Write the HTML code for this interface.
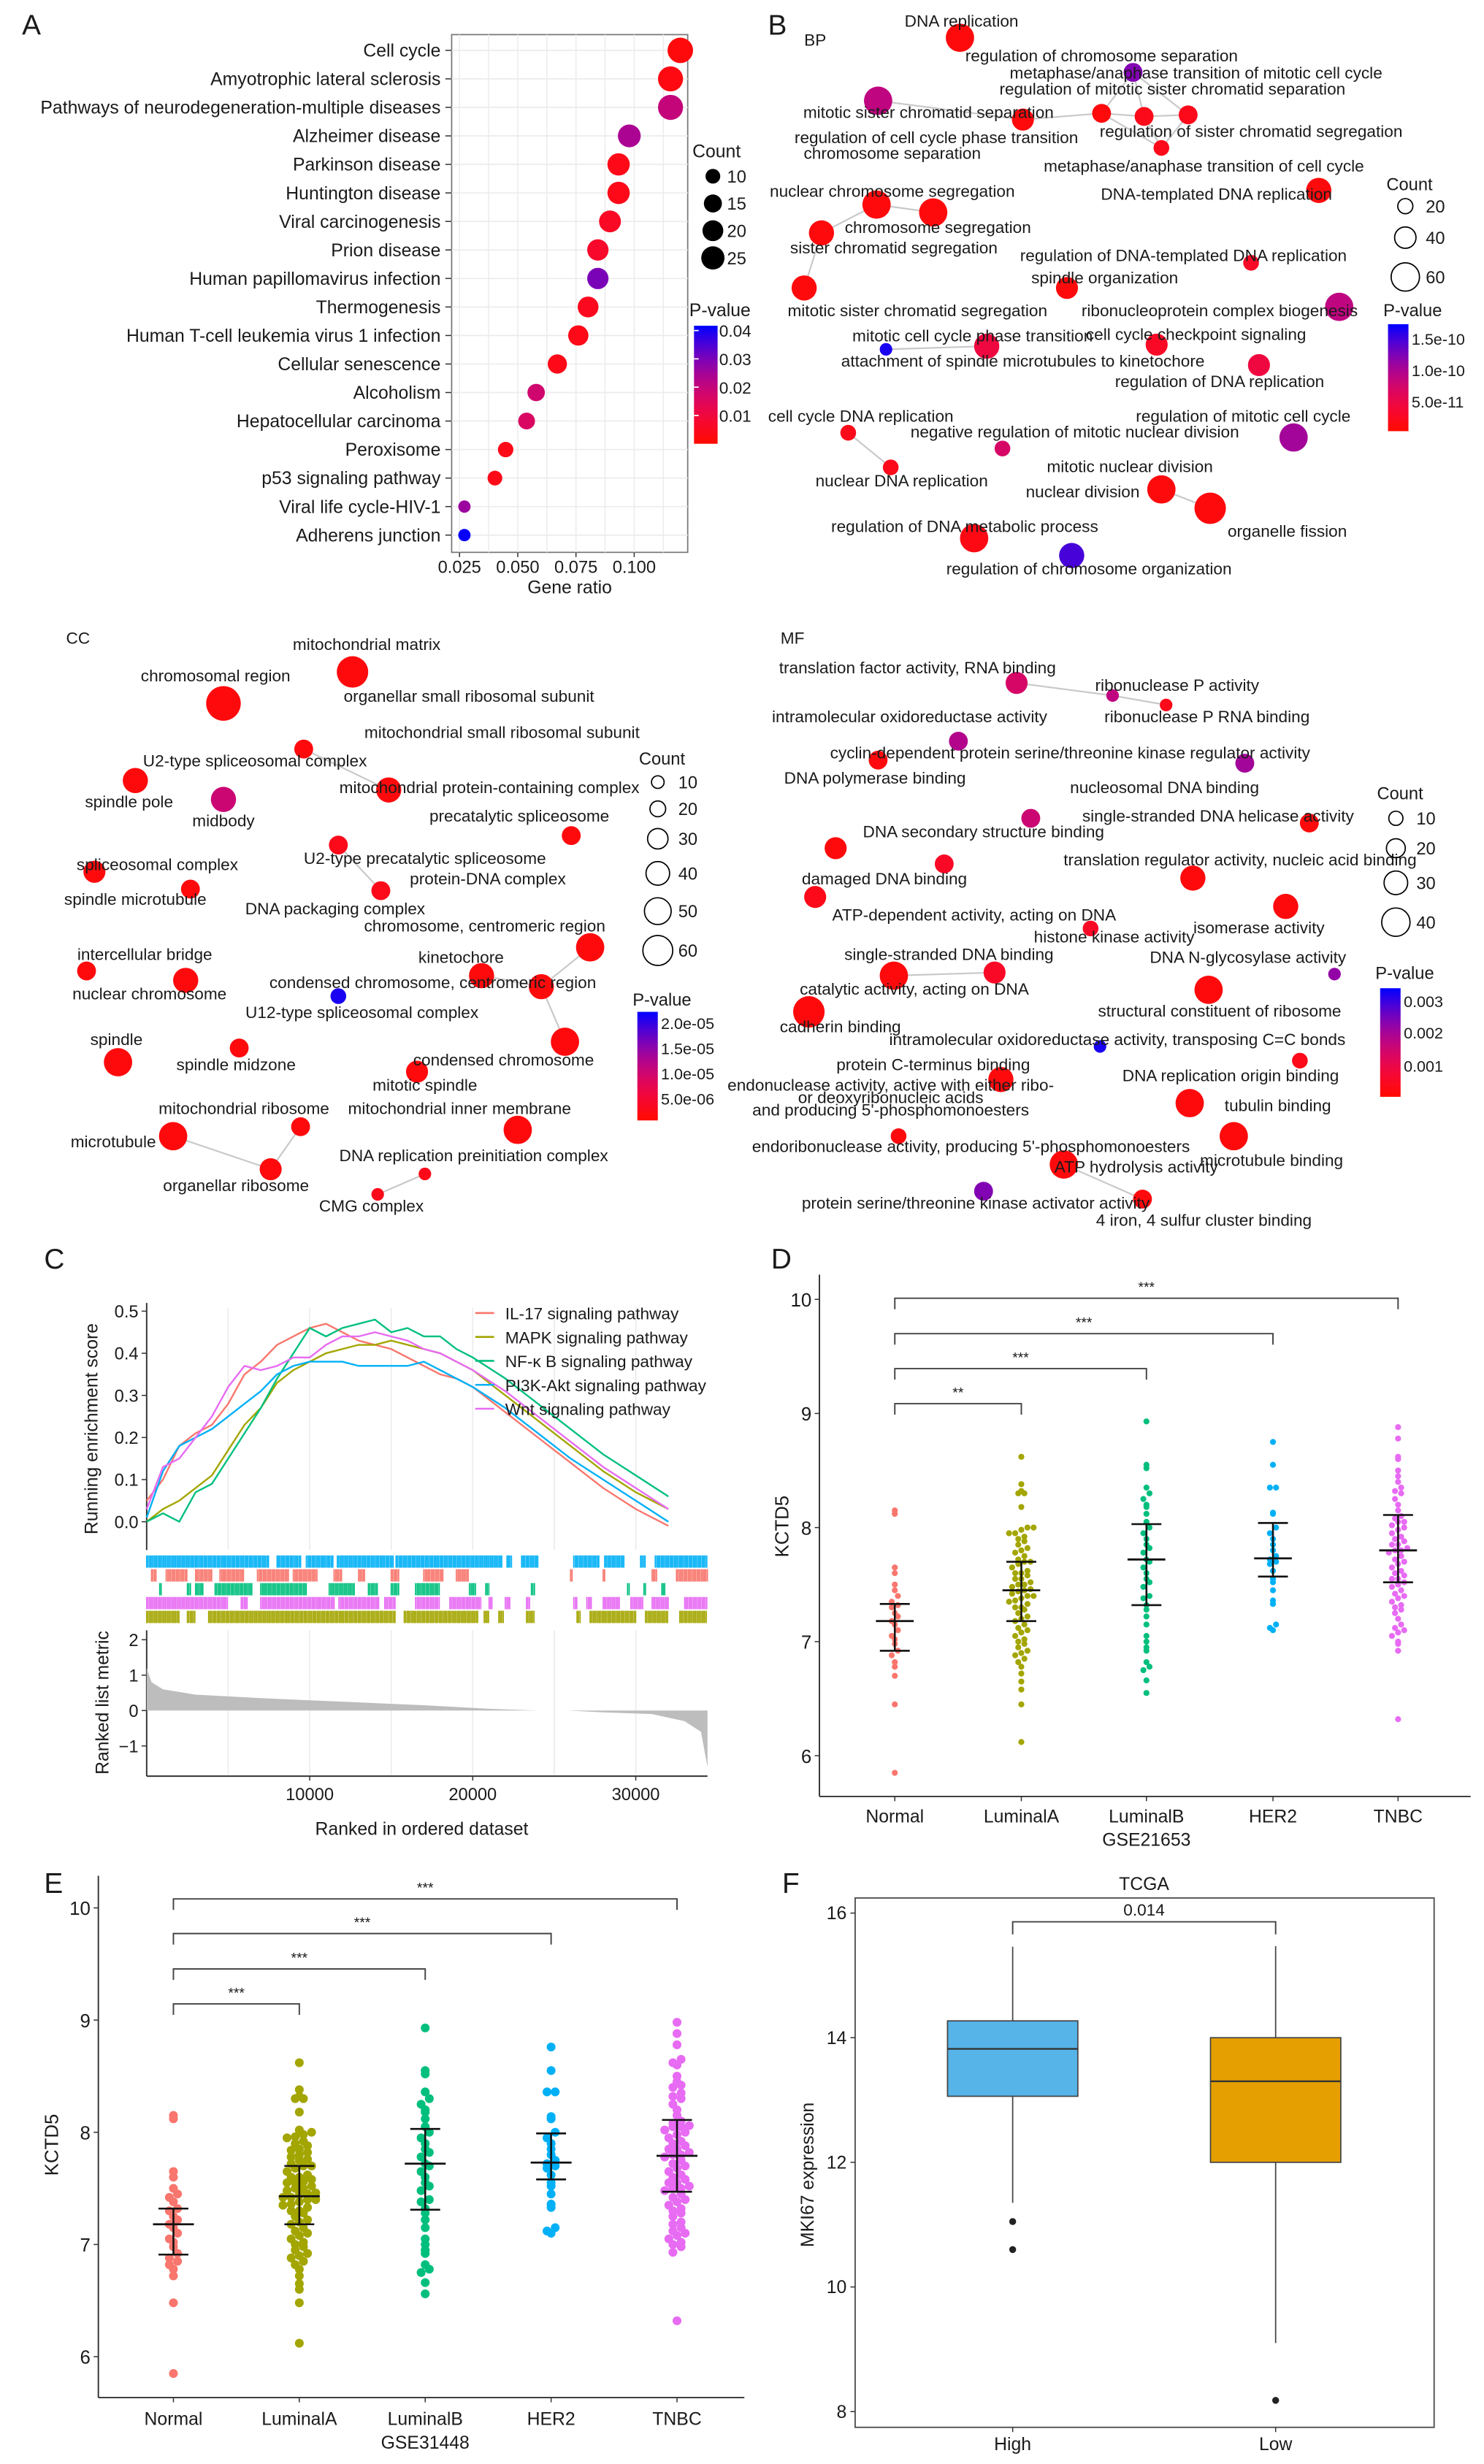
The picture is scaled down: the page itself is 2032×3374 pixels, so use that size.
<!DOCTYPE html>
<html><head><meta charset="utf-8">
<style>
html,body{margin:0;padding:0;background:#fff;}
svg{display:block;font-family:"Liberation Sans",Arial,sans-serif;}
</style></head>
<body>
<svg id="fig" xmlns="http://www.w3.org/2000/svg" width="2032" height="3374" viewBox="0 0 943 1565.8" preserveAspectRatio="none">
<rect x="0" y="0" width="943" height="1565.8" fill="#fff"/>
</svg>
<script>
// ---------- Panel A data ----------
const aTerms = ["Cell cycle","Amyotrophic lateral sclerosis","Pathways of neurodegeneration-multiple diseases","Alzheimer disease","Parkinson disease","Huntington disease","Viral carcinogenesis","Prion disease","Human papillomavirus infection","Thermogenesis","Human T-cell leukemia virus 1 infection","Cellular senescence","Alcoholism","Hepatocellular carcinoma","Peroxisome","p53 signaling pathway","Viral life cycle-HIV-1","Adherens junction"];
const aRatio = [0.1198,0.1156,0.1156,0.0979,0.0933,0.0933,0.0896,0.0844,0.0844,0.0802,0.076,0.067,0.0579,0.0538,0.0448,0.0402,0.0271,0.0271];
const aCount = [30,29,29,24,23,23,22,21,21,20,19,17,14,13,11,10,7,7];
const aPval = [0.002,0.003,0.02,0.024,0.004,0.004,0.006,0.007,0.03,0.005,0.004,0.004,0.018,0.016,0.004,0.004,0.026,0.041];
const aXTicks = [0.025,0.05,0.075,0.1];
const aXTickLabels = ["0.025","0.050","0.075","0.100"];
const aCountLegend = [10,15,20,25];
const aPLegend = [0.04,0.03,0.02,0.01];

// ---------- Panel C data ----------
const cRanks = [0,1000,2000,3000,4000,5000,6000,7000,8000,9000,10000,11000,12000,13000,14000,15000,16000,17000,18000,19000,20000,22000,24000,26000,28000,30000,32000];
const cIL17 = [0.05,0.1,0.18,0.21,0.23,0.28,0.35,0.38,0.42,0.44,0.46,0.47,0.45,0.43,0.42,0.41,0.39,0.37,0.35,0.34,0.32,0.26,0.2,0.14,0.08,0.03,-0.01];
const cMAPK = [0.0,0.03,0.05,0.08,0.11,0.17,0.23,0.27,0.33,0.36,0.38,0.4,0.41,0.42,0.42,0.43,0.42,0.41,0.4,0.38,0.36,0.3,0.24,0.18,0.12,0.07,0.03];
const cNFKB = [0.0,0.02,0.0,0.07,0.09,0.15,0.21,0.27,0.34,0.4,0.46,0.44,0.46,0.47,0.48,0.45,0.46,0.44,0.44,0.41,0.39,0.34,0.28,0.22,0.16,0.11,0.06];
const cPI3K = [0.01,0.12,0.18,0.2,0.22,0.25,0.28,0.31,0.35,0.37,0.38,0.38,0.38,0.37,0.37,0.37,0.37,0.38,0.36,0.34,0.32,0.27,0.21,0.15,0.1,0.05,0.0];
const cWnt = [0.03,0.13,0.15,0.2,0.25,0.32,0.37,0.36,0.37,0.39,0.39,0.42,0.44,0.44,0.45,0.44,0.43,0.41,0.4,0.38,0.36,0.31,0.25,0.19,0.13,0.08,0.03];
const cSeriesNames = ["IL-17 signaling pathway","MAPK signaling pathway","NF-κ B signaling pathway","PI3K-Akt signaling pathway","Wnt signaling pathway"];
const cYTicks = [0,0.1,0.2,0.3,0.4,0.5];
const cXTicks = [10000,20000,30000];
const cMetricRank = [0,300,1000,3000,7000,12000,17000,21000,24000,25800,28000,31000,33000,34000,34400];
const cMetricVal = [1.2,0.8,0.6,0.45,0.35,0.25,0.15,0.05,0.0,0.0,-0.05,-0.1,-0.3,-0.6,-1.6];
const cMetricTicks = [2,1,0,-1];
const cRugBlue = [[0,7500],[8000,9500],[9800,11500],[11700,15200],[15300,21800],[22100,22400],[23000,24000],[26200,27800],[28100,29300],[30300,30600],[31200,34400]];
const cRugRed = [[300,600],[1200,2500],[3000,4000],[4500,6000],[6800,8700],[9000,10500],[11500,12000],[13000,13400],[15000,15500],[17000,18200],[19000,19800],[26000,26100],[28000,28100],[31000,31300],[32500,34400]];
const cRugGreen = [[800,900],[2500,2700],[3000,3500],[4200,6500],[7000,9800],[11200,12800],[13600,14200],[15000,15500],[16500,18000],[19800,20200],[20800,21000],[23600,23800],[29500,29600],[30500,30600],[31600,31800]];
const cRugPink = [[0,5000],[5800,6200],[7000,11500],[11800,14300],[14600,15300],[16500,18000],[18600,20500],[21000,21200],[22000,22300],[23300,23500],[26200,26400],[27000,27300],[28000,29000],[29700,30500],[31000,32000],[33000,34400]];
const cRugOlive = [[0,2000],[2500,3000],[3800,15300],[15800,20300],[20700,21000],[21600,21900],[23300,23800],[26400,26600],[27200,30000],[30600,32000],[32700,34400]];

// ---------- Panel D data (GSE21653) ----------
const groups = ["Normal","LuminalA","LuminalB","HER2","TNBC"];
const dNormal = [8.15,8.12,7.65,7.6,7.5,7.45,7.4,7.35,7.32,7.3,7.25,7.22,7.18,7.15,7.1,7.05,7.02,6.98,6.92,6.88,6.82,6.78,6.7,6.45,5.85];
const dLumA = [8.62,8.38,8.32,8.3,8.3,8.18,8.0,8.0,7.98,7.95,7.95,7.92,7.9,7.88,7.85,7.82,7.8,7.78,7.75,7.72,7.7,7.7,7.68,7.65,7.62,7.6,7.6,7.58,7.55,7.55,7.52,7.5,7.5,7.48,7.46,7.45,7.44,7.42,7.4,7.4,7.38,7.36,7.35,7.33,7.3,7.3,7.28,7.25,7.22,7.2,7.18,7.15,7.12,7.1,7.08,7.05,7.02,7.0,6.98,6.95,6.92,6.9,6.88,6.85,6.82,6.78,6.72,6.65,6.58,6.45,6.12];
const dLumB = [8.93,8.55,8.52,8.35,8.3,8.25,8.2,8.18,8.12,8.05,8.0,7.95,7.9,7.85,7.82,7.78,7.72,7.7,7.65,7.6,7.55,7.52,7.48,7.4,7.38,7.32,7.28,7.22,7.15,7.05,7.0,6.95,6.92,6.82,6.78,6.75,6.66,6.55];
const dHER2 = [8.75,8.55,8.35,8.35,8.13,8.12,8.0,7.95,7.9,7.85,7.8,7.75,7.72,7.7,7.68,7.62,7.55,7.52,7.45,7.36,7.33,7.15,7.12,7.1];
const dTNBC = [8.88,8.78,8.62,8.6,8.5,8.45,8.4,8.35,8.32,8.3,8.25,8.2,8.15,8.1,8.08,8.05,8.05,8.02,8.0,7.98,7.95,7.92,7.9,7.88,7.85,7.85,7.82,7.8,7.8,7.78,7.75,7.72,7.7,7.68,7.65,7.62,7.6,7.58,7.55,7.55,7.52,7.5,7.48,7.45,7.42,7.4,7.38,7.35,7.32,7.3,7.28,7.25,7.2,7.15,7.12,7.1,7.08,7.05,7.0,6.98,6.92,6.32];
const dMean = [7.18,7.45,7.72,7.73,7.8];
const dLo = [6.92,7.18,7.32,7.57,7.52];
const dHi = [7.33,7.7,8.03,8.04,8.11];
const dSig = ["***","***","***","**"];
const yTicksKCTD = [10,9,8,7,6];

// ---------- Panel E data (GSE31448) ----------
const eNormal = [8.15,8.12,7.65,7.6,7.5,7.45,7.42,7.38,7.32,7.3,7.25,7.22,7.18,7.15,7.1,7.05,7.02,6.98,6.92,6.88,6.85,6.82,6.78,6.72,6.48,5.85];
const eLumA = [8.62,8.38,8.32,8.3,8.3,8.18,8.02,8.0,7.98,7.96,7.95,7.92,7.9,7.88,7.85,7.84,7.82,7.8,7.78,7.76,7.75,7.72,7.7,7.7,7.68,7.65,7.62,7.6,7.6,7.58,7.56,7.55,7.55,7.52,7.5,7.5,7.48,7.46,7.45,7.44,7.42,7.42,7.4,7.4,7.38,7.36,7.35,7.33,7.3,7.3,7.28,7.25,7.22,7.2,7.18,7.15,7.12,7.1,7.08,7.05,7.02,7.0,6.98,6.95,6.92,6.9,6.88,6.85,6.82,6.78,6.72,6.65,6.6,6.48,6.12];
const eLumB = [8.93,8.55,8.52,8.36,8.3,8.25,8.2,8.18,8.12,8.05,8.0,7.95,7.9,7.85,7.82,7.78,7.72,7.7,7.65,7.6,7.55,7.52,7.48,7.4,7.38,7.32,7.28,7.22,7.15,7.05,7.0,6.95,6.92,6.82,6.78,6.75,6.66,6.56];
const eHER2 = [8.76,8.55,8.36,8.36,8.14,8.12,8.0,7.95,7.9,7.85,7.8,7.75,7.72,7.7,7.68,7.62,7.55,7.52,7.45,7.36,7.33,7.15,7.12,7.1];
const eTNBC = [8.98,8.88,8.78,8.65,8.62,8.6,8.5,8.45,8.42,8.4,8.35,8.32,8.3,8.25,8.2,8.15,8.1,8.08,8.06,8.05,8.05,8.02,8.0,7.98,7.95,7.92,7.9,7.88,7.85,7.85,7.82,7.8,7.8,7.78,7.75,7.72,7.7,7.68,7.65,7.62,7.6,7.58,7.55,7.55,7.52,7.5,7.5,7.48,7.45,7.42,7.4,7.38,7.35,7.32,7.3,7.28,7.25,7.2,7.18,7.15,7.12,7.1,7.08,7.05,7.02,7.0,6.98,6.93,6.32];
const eMean = [7.18,7.43,7.72,7.73,7.79];
const eLo = [6.91,7.18,7.31,7.58,7.47];
const eHi = [7.32,7.7,8.03,7.99,8.11];
const eSig = ["***","***","***","***"];

// ---------- Panel F data ----------
const fGroups = ["High","Low"];
const fQ1 = [13.06,12.0];
const fMed = [13.82,13.3];
const fQ3 = [14.27,14.0];
const fWLo = [11.35,9.1];
const fWHi = [15.46,15.47];
const fOut = [[11.05,10.6],[8.18]];
const fYTicks = [16,14,12,10,8];

// ---------- Network data ----------
const bpNodes = [[610,24,9,.05],[720,46,6,.7],[558,64,9,.5],[650,76,7,.05],[700,72,6,.05],[727,74,6,.1],[755,73,6,.1],[738,94,5,.1],[557,130,9,.05],[593,135,9,.05],[838,121,8,.05],[522,148,8,.05],[795,167,5,.15],[678,183,7,.05],[511,183,8,.05],[851,195,9,.5],[627,220,8,.25],[563,222,4,.95],[800,232,7,.25],[539,275,5,.1],[637,285,5,.4],[822,278,9,.6],[566,297,5,.1],[738,311,9,.05],[769,323,10,.05],[619,342,9,.08],[681,353,8,.85],[735,219,7,.15]];
const bpEdges = [[3,4],[4,5],[5,6],[1,4],[1,5],[1,6],[5,7],[4,7],[6,7],[2,3],[8,9],[8,11],[11,14],[19,22],[23,24],[16,17]];
const bpLabels = [["DNA replication",611,17],["regulation of chromosome separation",700,39],["metaphase/anaphase transition of mitotic cell cycle",760,50],["regulation of mitotic sister chromatid separation",745,60],["mitotic sister chromatid separation",590,75],["regulation of cell cycle phase transition",595,91],["regulation of sister chromatid segregation",795,87],["chromosome separation",567,101],["metaphase/anaphase transition of cell cycle",765,109],["nuclear chromosome segregation",567,125],["DNA-templated DNA replication",773,127],["chromosome segregation",596,148],["sister chromatid segregation",568,161],["regulation of DNA-templated DNA replication",752,166],["spindle organization",702,180],["ribonucleoprotein complex biogenesis",775,201],["mitotic sister chromatid segregation",583,201],["mitotic cell cycle phase transition",618,217],["cell cycle checkpoint signaling",760,216],["attachment of spindle microtubules to kinetochore",650,233],["regulation of DNA replication",775,246],["cell cycle DNA replication",547,268],["regulation of mitotic cell cycle",790,268],["negative regulation of mitotic nuclear division",683,278],["nuclear DNA replication",573,309],["mitotic nuclear division",718,300],["nuclear division",688,316],["organelle fission",818,341],["regulation of DNA metabolic process",613,338],["regulation of chromosome organization",692,365]];
const ccNodes = [[224,427,10,.05],[142,447,11,.05],[193,476,6,.05],[86,496,8,.05],[142,508,8,.45],[247,502,8,.05],[363,531,6,.05],[215,537,6,.1],[60,554,7,.05],[121,565,6,.05],[242,566,6,.1],[375,602,9,.05],[306,620,8,.05],[118,623,8,.05],[344,627,8,.05],[215,633,5,.95],[55,617,6,.05],[75,675,9,.05],[152,666,6,.05],[359,662,9,.05],[265,681,7,.05],[191,716,6,.05],[329,718,9,.05],[110,722,9,.05],[172,743,7,.05],[270,746,4,.1],[240,759,4,.1]];
const ccEdges = [[2,5],[7,10],[12,14],[14,11],[14,19],[21,24],[25,26],[23,24]];
const ccLabels = [["mitochondrial matrix",233,413],["chromosomal region",137,433],["organellar small ribosomal subunit",298,446],["mitochondrial small ribosomal subunit",319,469],["U2-type spliceosomal complex",162,487],["spindle pole",82,513],["midbody",142,525],["mitochondrial protein-containing complex",311,504],["precatalytic spliceosome",330,522],["U2-type precatalytic spliceosome",270,549],["protein-DNA complex",310,562],["spliceosomal complex",100,553],["spindle microtubule",86,575],["DNA packaging complex",213,581],["chromosome, centromeric region",308,592],["intercellular bridge",92,610],["kinetochore",293,612],["nuclear chromosome",95,635],["condensed chromosome, centromeric region",275,628],["U12-type spliceosomal complex",230,647],["spindle",74,664],["spindle midzone",150,680],["condensed chromosome",320,677],["mitotic spindle",270,693],["mitochondrial ribosome",155,708],["mitochondrial inner membrane",292,708],["microtubule",72,729],["organellar ribosome",150,757],["DNA replication preinitiation complex",301,738],["CMG complex",236,770]];
const mfNodes = [[646,434,7,.4],[707,442,4,.5],[741,448,4,.1],[609,471,6,.55],[791,485,6,.6],[558,483,6,.05],[832,523,6,.05],[655,520,6,.45],[531,539,7,.05],[758,558,8,.05],[600,549,6,.15],[518,570,7,.1],[817,576,8,.05],[693,590,5,.15],[848,619,4,.65],[568,620,9,.05],[632,618,7,.15],[514,643,10,.05],[768,629,9,.05],[699,665,4,.95],[636,686,8,.05],[826,674,5,.1],[756,701,9,.05],[784,722,9,.05],[571,722,5,.05],[676,740,9,.05],[625,757,6,.7],[726,762,6,.05]];
const mfEdges = [[0,1],[1,2],[15,16],[25,27]];
const mfLabels = [["translation factor activity, RNA binding",583,428],["ribonuclease P activity",748,439],["ribonuclease P RNA binding",767,459],["intramolecular oxidoreductase activity",578,459],["cyclin-dependent protein serine/threonine kinase regulator activity",680,482],["DNA polymerase binding",556,498],["nucleosomal DNA binding",740,504],["single-stranded DNA helicase activity",774,522],["DNA secondary structure binding",625,532],["translation regulator activity, nucleic acid binding",788,550],["damaged DNA binding",562,562],["ATP-dependent activity, acting on DNA",619,585],["histone kinase activity",708,599],["isomerase activity",800,593],["DNA N-glycosylase activity",793,612],["single-stranded DNA binding",603,610],["catalytic activity, acting on DNA",581,632],["structural constituent of ribosome",775,646],["cadherin binding",534,656],["intramolecular oxidoreductase activity, transposing C=C bonds",710,664],["protein C-terminus binding",593,680],["DNA replication origin binding",782,687],["endonuclease activity, active with either ribo-",566,693],["or deoxyribonucleic acids",566,701],["and producing 5'-phosphomonoesters",566,709],["tubulin binding",812,706],["endoribonuclease activity, producing 5'-phosphomonoesters",617,732],["microtubule binding",808,741],["ATP hydrolysis activity",722,745],["protein serine/threonine kinase activator activity",620,768],["4 iron, 4 sulfur cluster binding",765,779]];

// ---------- helpers ----------
const NS = "http://www.w3.org/2000/svg";
const svg = document.getElementById('fig');
function mk(tag, parent){ const e=document.createElementNS(NS,tag); (parent||svg).appendChild(e); return e; }
function at(e, o){ for(const k in o) e.setAttribute(k,o[k]); return e; }
function grp(name){ const g=mk('g');   return g; }
function txt(parent, s, x, y, size, anchor, name, extra){
  const t=mk('text',parent); at(t,{x:x,y:y,'font-size':size,'text-anchor':anchor||'start',fill:'#1a1a1a'});
  if(extra) at(t,extra);
  t.textContent=s;
  
  
  return t;
}
function line(parent,x1,y1,x2,y2,stroke,w,name){
  const l=mk('line',parent); at(l,{x1:x1,y1:y1,x2:x2,y2:y2,stroke:stroke,'stroke-width':w});
  
  
  return l;
}
function pcol(t){ // 0 red -> 1 blue, magenta midpoint
  t=Math.max(0,Math.min(1,t));
  const r=Math.round(255*(1-t*t)), b=Math.round(255*t), g=Math.round(10*(1-t));
  return `rgb(${r},${g},${b})`;
}
function gradient(id){
  let defs=svg.querySelector('defs'); if(!defs) defs=mk('defs');
  const lg=mk('linearGradient',defs); at(lg,{id:id,x1:0,y1:0,x2:0,y2:1});
  for(let i=0;i<=10;i++){ const s=mk('stop',lg); at(s,{offset:i/10,'stop-color':pcol(1-i/10)}); }
}
gradient('pgrad');

// panel letters
[["A",14,22],["B",488,22],["C",28,806],["D",490,806],["E",28,1203],["F",497,1203]].forEach(p=>{
  txt(svg,p[0],p[1],p[2],18,'start','panel-label-'+p[0].toLowerCase());
});

// ---------- Panel A ----------
(function(){
  const g=grp('panel-a-dotplot');
  const L=287,R=437,T=22,B=351;
  const xs=v=>292+(v-0.025)/0.025*37;
  const ys=i=>32+i*18.12;
  const bg=mk('rect',g); at(bg,{x:L,y:T,width:R-L,height:B-T,fill:'#fff',stroke:'#777','stroke-width':0.8});
   
  for(let v=0.0125; v<0.125; v+=0.0125){ const x=xs(v); if(x>L&&x<R) line(g,x,T,x,B,'#ececec',0.7,'x-grid'); }
  aTerms.forEach((t,i)=>line(g,L,ys(i),R,ys(i),'#ececec',0.8,'y-grid'));
  aTerms.forEach((t,i)=>{
    txt(g,t,280,ys(i)+4,11.5,'end','term-label');
    line(g,283,ys(i),L,ys(i),'#333',0.7,'y-tick');
    const c=mk('circle',g); at(c,{cx:xs(aRatio[i]),cy:ys(i),r:1.48*Math.sqrt(aCount[i]),fill:pcol(aPval[i]/0.0417)});
    
    
  });
  aXTicks.forEach((v,i)=>{ line(g,xs(v),B,xs(v),B+3,'#333',0.7,'x-tick'); txt(g,aXTickLabels[i],xs(v),B+13,11,'middle','x-tick-label'); });
  txt(g,"Gene ratio",362,B+26,11.5,'middle','x-axis-title');
  txt(g,"Count",440,100,11.5,'start','legend-count-title');
  aCountLegend.forEach((c,i)=>{
    const y=112+i*17.3;
    const d=mk('circle',g); at(d,{cx:453,cy:y,r:1.48*Math.sqrt(c),fill:'#000'});
    
    
    txt(g,String(c),462,y+4,11,'start','legend-count-label');
  });
  txt(g,"P-value",438,201,11.5,'start','legend-pvalue-title');
  const cb=mk('rect',g); at(cb,{x:441,y:207,width:15,height:75,fill:'url(#pgrad)'});
   
  aPLegend.forEach(p=>{ const y=282-p/0.0417*75; line(g,441,y,444,y,'#fff',0.8,'cb-tick'); txt(g,p.toFixed(2),457,y+4,10.5,'start','cb-label'); });
})();

// ---------- Networks ----------
function network(name,nodes,edges,labels,fs){
  const g=grp(name);
  edges.forEach(e=>line(g,nodes[e[0]][0],nodes[e[0]][1],nodes[e[1]][0],nodes[e[1]][1],'#c8c8c8',1,'edge'));
  nodes.forEach((n,i)=>{
    const c=mk('circle',g); at(c,{cx:n[0],cy:n[1],r:n[2],fill:pcol(n[3])});
    
    
  });
  labels.forEach(l=>txt(g,l[0],l[1],l[2],fs,'middle','node-label'));
  return g;
}
network('panel-b-bp-network',bpNodes,bpEdges,bpLabels,10.5);
network('panel-cc-network',ccNodes,ccEdges,ccLabels,10.5);
network('panel-mf-network',mfNodes,mfEdges,mfLabels,10.5);
txt(svg,"BP",511,29,10.5,'start','bp-title');
txt(svg,"CC",42,409,10.5,'start','cc-title');
txt(svg,"MF",496,409,10.5,'start','mf-title');
function netLegend(name,cx,countTitleY,circles,px,ptitleY,barTop,barH,plabels){
  const g=grp(name);
  txt(g,"Count",cx-12,countTitleY,11,'start','legend-count-title');
  circles.forEach(c=>{
    const d=mk('circle',g); at(d,{cx:cx,cy:c[1],r:c[2],fill:'none',stroke:'#000','stroke-width':0.8});
    
    
    txt(g,c[0],cx+13,c[1]+4,11,'start','legend-count-label');
  });
  txt(g,"P-value",px-3,ptitleY,11,'start','legend-pvalue-title');
  const cb=mk('rect',g); at(cb,{x:px,y:barTop,width:13,height:barH,fill:'url(#pgrad)'});
   
  plabels.forEach(p=>txt(g,p[0],px+15,p[1]+4,10,'start','cb-label'));
}
netLegend('bp-legend',893,121,[["20",131,4.8],["40",151,6.8],["60",176,9]],882,201,206,68,[["1.5e-10",215],["1.0e-10",235],["5.0e-11",255]]);
netLegend('cc-legend',418,486,[["10",497,4],["20",514,5],["30",533,6.5],["40",555,7.5],["50",579,8.5],["60",604,9.5]],405,639,643,69,[["2.0e-05",650],["1.5e-05",666],["1.0e-05",682],["5.0e-06",698]]);
netLegend('mf-legend',887,508,[["10",520,4.5],["20",539,6],["30",561,7.5],["40",586,9]],877,622,628,69,[["0.003",636],["0.002",656],["0.001",677]]);

// ---------- Panel C ----------
(function(){
  const g=grp('panel-c-gsea');
  const xs=r=>93.2+r/10000*103.6;
  const ys=v=>967-v*267.6;
  const ym=v=>1087-v*22.5;
  const R=xs(34400);
  [5000,10000,15000,20000,25000,30000].forEach(r=>{ line(g,xs(r),831,xs(r),985,'#ececec',0.8,'x-grid'); line(g,xs(r),1036,xs(r),1128,'#ececec',0.8,'x-grid'); });
  line(g,93.2,828,93.2,985,'#333',0.9,'y-axis');
  cYTicks.forEach(v=>{ line(g,90,ys(v),93.2,ys(v),'#333',0.7,'y-tick'); txt(g,v.toFixed(1),88,ys(v)+4,11,'end','y-tick-label'); });
  const cols=["#F8766D","#A3A500","#00BF7D","#00B0F6","#E76BF3"];
  const series=[cIL17,cMAPK,cNFKB,cPI3K,cWnt];
  series.forEach((s,k)=>{
    const p=mk('polyline',g);
    at(p,{points:s.map((v,i)=>xs(cRanks[i])+','+ys(v)).join(' '),fill:'none',stroke:cols[k],'stroke-width':1.1});
    
    
  });
  cSeriesNames.forEach((n,k)=>{ const y=834.4+k*15.2; line(g,302,y,314,y,cols[k],1.2,'legend-key'); txt(g,n,321,y+4,10.5,'start','legend-entry'); });
  txt(g,"Running enrichment score",62,908,11.5,'middle','y-axis-title',{transform:'rotate(-90 62 908)'});
  const rugs=[cRugBlue,cRugRed,cRugGreen,cRugPink,cRugOlive];
  const rcols=["#00B0F6","#F8766D","#00BF7D","#E76BF3","#A3A500"];
  rugs.forEach((rg,k)=>{
    const y0=988.4+k*8.8;
    let d='';
    rg.forEach(seg=>{ for(let r=seg[0]; r<=seg[1]; r+=90){ const x=xs(r).toFixed(1); d+=`M${x} ${y0}V${y0+7.8}`; } });
    const p=mk('path',g); at(p,{d:d,stroke:rcols[k],'stroke-width':0.8,fill:'none'});
    
    
  });
  line(g,93.2,1036,93.2,1128.7,'#333',0.9,'metric-y-axis');
  line(g,93.2,1128.7,R,1128.7,'#333',0.9,'x-axis');
  cMetricTicks.forEach(v=>{ line(g,90,ym(v),93.2,ym(v),'#333',0.7,'y-tick'); txt(g,(v<0?'\u2212':'')+Math.abs(v),88,ym(v)+4,11,'end','metric-tick-label'); });
  let pts=cMetricRank.map((r,i)=>xs(r)+','+ym(cMetricVal[i])).join(' ');
  const area=mk('polygon',g); at(area,{points:xs(0)+','+ym(0)+' '+pts+' '+xs(34400)+','+ym(0),fill:'#bdbdbd'});
  
  
  cXTicks.forEach(v=>{ line(g,xs(v),1128.7,xs(v),1131.5,'#333',0.7,'x-tick'); txt(g,String(v),xs(v),1144,11,'middle','x-tick-label'); });
  txt(g,"Ranked in ordered dataset",268,1166,11.5,'middle','x-axis-title');
  txt(g,"Ranked list metric",69,1082,11.5,'middle','metric-axis-title',{transform:'rotate(-90 69 1082)'});
})();

// ---------- Dot strip charts D & E ----------
function strip(name,vals,mean,lo,hi,sig,opt){
  const g=grp(name);
  const ys=v=>opt.y10+(10-v)*opt.unit;
  const cols=["#F8766D","#A3A500","#00BF7D","#00B0F6","#E76BF3"];
  line(g,opt.L,opt.top,opt.L,opt.B,'#333',0.9,'y-axis');
  line(g,opt.L,opt.B,opt.R,opt.B,'#333',0.9,'x-axis');
  yTicksKCTD.forEach(v=>{ line(g,opt.L-3,ys(v),opt.L,ys(v),'#333',0.7,'y-tick'); txt(g,String(v),opt.L-5,ys(v)+4.5,12,'end','y-tick-label'); });
  groups.forEach((gname,i)=>{
    const cx=opt.gx[i];
    line(g,cx,opt.B,cx,opt.B+3,'#333',0.7,'x-tick');
    txt(g,gname,cx,opt.labY,11.5,'middle','x-tick-label');
    const v=vals[i].slice().sort((a,b)=>a-b);
    const bins={};
    v.forEach(val=>{ const k=Math.round(val/0.06); (bins[k]=bins[k]||[]).push(val); });
    Object.keys(bins).forEach(k=>{
      const arr=bins[k];
      arr.forEach((val,j)=>{
        const off=(j-(arr.length-1)/2)*opt.sp;
        const c=mk('circle',g); at(c,{cx:cx+off,cy:ys(val),r:opt.r,fill:cols[i]});
        
        
      });
    });
    line(g,cx,ys(hi[i]),cx,ys(lo[i]),'#111',1.2,'sd-bar');
    line(g,cx-opt.mw,ys(mean[i]),cx+opt.mw,ys(mean[i]),'#111',1.3,'mean-bar');
    line(g,cx-opt.sw,ys(hi[i]),cx+opt.sw,ys(hi[i]),'#111',1.2,'sd-cap');
    line(g,cx-opt.sw,ys(lo[i]),cx+opt.sw,ys(lo[i]),'#111',1.2,'sd-cap');
  });
  const targets=[4,3,2,1];
  targets.forEach((t,k)=>{
    const y=opt.brY[k], x1=opt.gx[0], x2=opt.gx[t];
    const p=mk('path',g); at(p,{d:`M${x1} ${y+7}V${y}H${x2}V${y+7}`,fill:'none',stroke:'#444','stroke-width':0.9});
    
    
    txt(g,sig[k],(x1+x2)/2,y-4,9,'middle','significance-label');
  });
  txt(g,"KCTD5",opt.ylx,opt.yly,12,'middle','y-axis-title',{transform:`rotate(-90 ${opt.ylx} ${opt.yly})`});
  txt(g,opt.title,(opt.gx[2]),opt.labY+15,11.5,'middle','x-axis-title');
}
strip('panel-d-gse21653',[dNormal,dLumA,dLumB,dHER2,dTNBC],dMean,dLo,dHi,dSig,{L:520.7,R:934.5,top:810,B:1141.6,y10:825.7,unit:72.5,gx:[568.6,649,728.5,808.9,888.4],r:1.9,sp:3.9,mw:12,sw:9.5,brY:[825,847.5,869.7,892],labY:1158,ylx:501,yly:970,title:"GSE21653"});
strip('panel-e-gse31448',[eNormal,eLumA,eLumB,eHER2,eTNBC],eMean,eLo,eHi,eSig,{L:62.5,R:473,top:1192,B:1523.6,y10:1212.4,unit:71.3,gx:[110.2,190.2,270.2,350.2,430.2],r:2.8,sp:5.2,mw:13,sw:9.5,brY:[1206.7,1228.7,1251.2,1273.4],labY:1541,ylx:37,yly:1363,title:"GSE31448"});

// ---------- Panel F ----------
(function(){
  const g=grp('panel-f-boxplot');
  const ys=v=>1215.7+(16-v)*39.6;
  const gx=[643.5,810.6], hw=41.4, fills=["#56B4E9","#E69F00"];
  const fr=mk('rect',g); at(fr,{x:543.4,y:1206.1,width:367.9,height:336.4,fill:'none',stroke:'#555','stroke-width':0.9});
   
  fYTicks.forEach(v=>{ line(g,540.4,ys(v),543.4,ys(v),'#333',0.7,'y-tick'); txt(g,String(v),538,ys(v)+4,11.5,'end','y-tick-label'); });
  fGroups.forEach((n,i)=>{
    const x=gx[i];
    line(g,x,ys(fWHi[i]),x,ys(fQ3[i]),'#444',0.8,'whisker');
    line(g,x,ys(fQ1[i]),x,ys(fWLo[i]),'#444',0.8,'whisker');
    const b=mk('rect',g); at(b,{x:x-hw,y:ys(fQ3[i]),width:2*hw,height:ys(fQ1[i])-ys(fQ3[i]),fill:fills[i],stroke:'#444','stroke-width':0.8});
    
    
    line(g,x-hw,ys(fMed[i]),x+hw,ys(fMed[i]),'#333',1.1,'median-line');
    fOut[i].forEach(o=>{ const c=mk('circle',g); at(c,{cx:x,cy:ys(o),r:2.2,fill:'#222'});   });
    line(g,x,1542.5,x,1545.5,'#333',0.7,'x-tick');
    txt(g,n,x,1557,11.5,'middle','x-tick-label');
  });
  const y=ys(15.86);
  const p=mk('path',g); at(p,{d:`M${gx[0]} ${y+8}V${y}H${gx[1]}V${y+8}`,fill:'none',stroke:'#444','stroke-width':0.9});
  
  
  txt(g,"0.014",727,y-4,10.5,'middle','p-value-label');
  txt(g,"TCGA",727,1201,11.5,'middle','plot-title');
  txt(g,"MKI67 expression",517,1382,11.5,'middle','y-axis-title',{transform:'rotate(-90 517 1382)'});
})();
</script>
</body></html>
